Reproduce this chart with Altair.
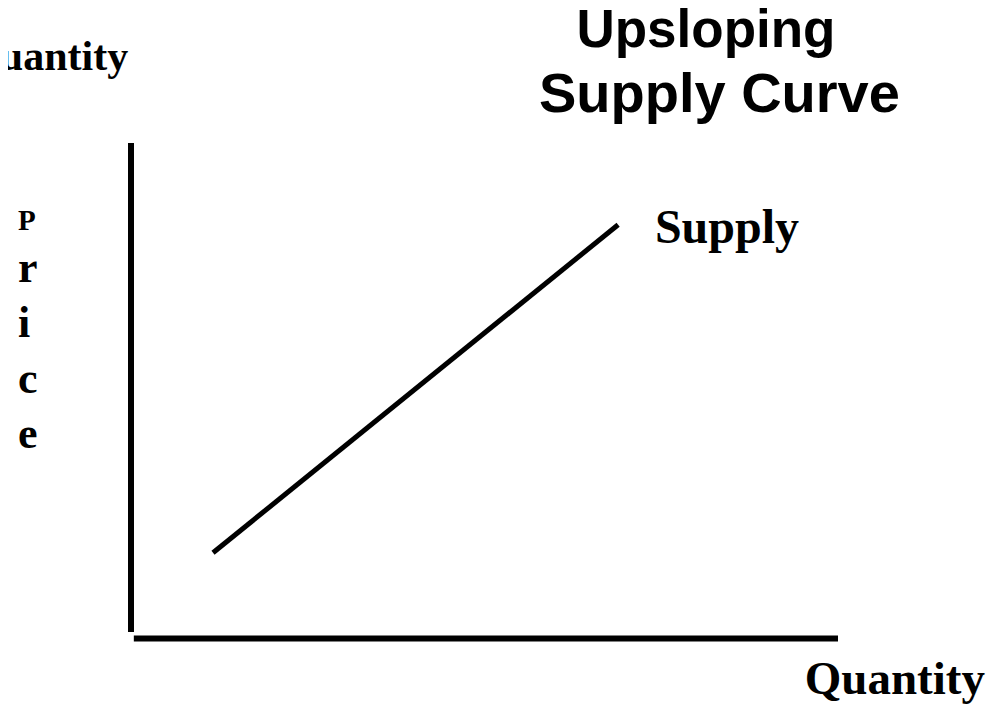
import altair as alt
import pandas as pd

# Axis segments (conceptual units: quantity 0-10, price 0-10)
axis_x = [0.0, 0.04]
axis_y = [0.13, 0.0]
axis_x2 = [0.0, 10.0]
axis_y2 = [10.0, 0.0]

# Supply curve end points
supply_q = [1.16, 6.89]
supply_p = [1.73, 8.35]

# Labels
label_text = ["Supply", "Quantity", "Quantity"]
label_x = [7.41, 9.53, -0.04]
label_y = [7.99, -1.13, 11.48]
label_align = ["left", "left", "right"]
label_size = [48, 47, 42]

price_letters = ["P", "r", "i", "c", "e"]
price_y = [8.25, 7.20, 6.09, 4.96, 3.85]
price_size = [29, 44, 44, 44, 44]
price_x = -1.60

title_lines = ["Upsloping", "Supply Curve"]
title_y = [11.93, 10.62]
title_x = [6.30, 5.77]
title_size = [53, 56]

xs = alt.Scale(domain=[0, 10], range=[123, 830])
ys = alt.Scale(domain=[0, 10], range=[630.5, 135])

axes_df = pd.DataFrame({"x": axis_x, "y": axis_y, "x2": axis_x2, "y2": axis_y2})
supply_df = pd.DataFrame({"q": supply_q, "p": supply_p})
labels_df = pd.DataFrame({"t": label_text, "x": label_x, "y": label_y,
                          "a": label_align, "s": label_size})
price_df = pd.DataFrame({"t": price_letters, "y": price_y, "s": price_size,
                         "x": [price_x] * len(price_letters)})
title_df = pd.DataFrame({"t": title_lines, "y": title_y, "x": title_x, "s": title_size})

axes = alt.Chart(axes_df).mark_rule(color="black", strokeWidth=6, strokeCap="butt").encode(
    x=alt.X("x:Q", scale=xs, axis=None),
    y=alt.Y("y:Q", scale=ys, axis=None),
    x2="x2:Q",
    y2="y2:Q",
)

supply = alt.Chart(supply_df).mark_line(color="black", strokeWidth=5, strokeCap="butt").encode(
    x=alt.X("q:Q", scale=xs, axis=None),
    y=alt.Y("p:Q", scale=ys, axis=None),
)

serif = "Liberation Serif"


def text_layer(df, align, font):
    return alt.Chart(df).mark_text(
        font=font, fontWeight="bold", align=align, baseline="alphabetic", color="black"
    ).encode(
        x=alt.X("x:Q", scale=xs, axis=None),
        y=alt.Y("y:Q", scale=ys, axis=None),
        text="t:N",
        size=alt.Size("s:Q", scale=None, legend=None),
    )


labels_left = text_layer(labels_df[labels_df.a == "left"], "left", serif)
labels_right = text_layer(labels_df[labels_df.a == "right"], "right", serif)
price = text_layer(price_df, "left", serif)
title = text_layer(title_df, "left", "Liberation Sans")

chart = alt.layer(axes, supply, labels_left, labels_right, price, title).properties(
    width=983, height=697, padding=0, autosize="none", background="white"
).configure_view(stroke=None)

chart.save("out.html", embed_options={"renderer": "svg", "actions": False})
